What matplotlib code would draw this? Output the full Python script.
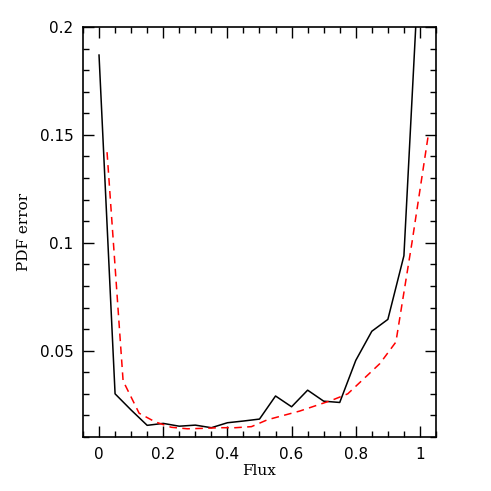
import numpy as np
import matplotlib
matplotlib.use('Agg')
from matplotlib import pyplot as plt
from matplotlib.ticker import MultipleLocator, FuncFormatter

# black curve: PDF error vs flux
flux_a = [0.0, 0.05, 0.1, 0.15, 0.2, 0.25, 0.3, 0.35, 0.4, 0.45, 0.5,
          0.55, 0.6, 0.65, 0.7, 0.75, 0.8, 0.85, 0.9, 0.95, 1.0]
err_a = [0.187, 0.030, 0.0225, 0.0154, 0.0163, 0.0150, 0.0155, 0.0143, 0.0166, 0.0174, 0.0183,
         0.029, 0.024, 0.0317, 0.0266, 0.026, 0.0455, 0.059, 0.0645, 0.094, 0.238]

# red dashed curve
flux_b = [0.025, 0.075, 0.125, 0.175, 0.225, 0.275, 0.325, 0.375, 0.425, 0.475, 0.525,
          0.575, 0.625, 0.675, 0.725, 0.775, 0.825, 0.875, 0.925, 0.975, 1.025]
err_b = [0.142, 0.036, 0.021, 0.017, 0.0145, 0.0138, 0.014, 0.0143, 0.0143, 0.0148, 0.018,
         0.020, 0.022, 0.0245, 0.027, 0.030, 0.037, 0.044, 0.054, 0.100, 0.149]

fig = plt.figure(figsize=(4.91, 4.91), dpi=100)
ax = fig.add_axes([0.169, 0.11, 0.719, 0.835])

ax.plot(flux_a, err_a, color='black', lw=1.1)
ax.plot(flux_b, err_b, color='red', lw=1.1, ls=(0, (5, 3.5)))

ax.set_xlim(-0.05, 1.05)
ax.set_ylim(0.01, 0.2)

ax.xaxis.set_major_locator(MultipleLocator(0.2))
ax.xaxis.set_minor_locator(MultipleLocator(0.05))
ax.yaxis.set_major_locator(MultipleLocator(0.05))
ax.yaxis.set_minor_locator(MultipleLocator(0.01))
fmt = FuncFormatter(lambda v, p: '%g' % round(v, 3))
ax.xaxis.set_major_formatter(fmt)
ax.yaxis.set_major_formatter(fmt)

ax.tick_params(which='both', direction='in', top=True, right=True, width=1)
ax.tick_params(which='major', length=8, labelsize=11, pad=7)
ax.tick_params(which='minor', length=4)
for s in ax.spines.values():
    s.set_linewidth(1.2)

ax.set_xlabel('Flux', family='DejaVu Serif', fontsize=11, labelpad=2)
ax.set_ylabel('PDF error', family='DejaVu Serif', fontsize=11, labelpad=6)

fig.savefig('out.png', dpi=100)
plt.close()
